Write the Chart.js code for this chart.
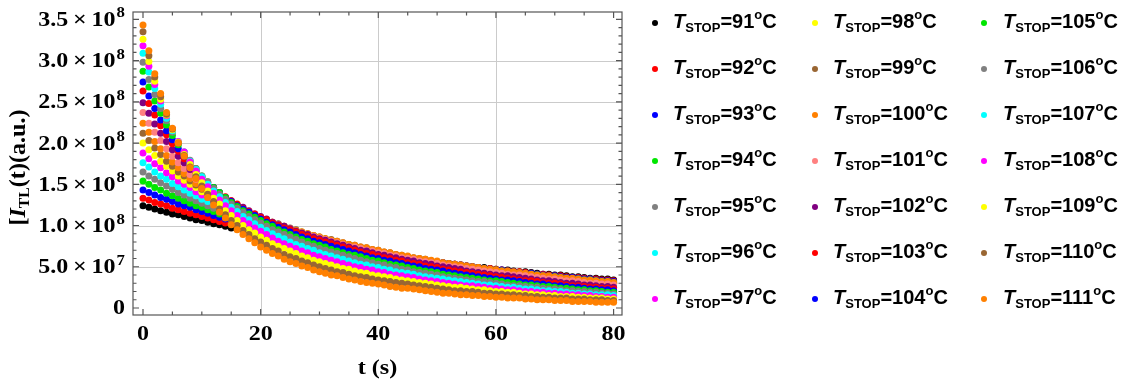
<!DOCTYPE html>
<html>
<head>
<meta charset="utf-8">
<script src="https://cdn.jsdelivr.net/npm/chart.js@4.4.0/dist/chart.umd.min.js"></script>
<style>
  html, body { margin: 0; padding: 0; background: #fff; }
  #wrap { position: relative; width: 1133px; height: 385px; overflow: hidden; }
  #chart { position: absolute; left: 0; top: 0; }
  .leg { position: absolute; font: bold 20px "Liberation Sans", Arial, sans-serif; color: #000;
         white-space: nowrap; line-height: 24px; height: 24px; }
  .leg i { font-style: italic; }
  .leg .sub { font-size: 13px; position: relative; top: 4px; }
  .leg .sup { font-size: 13px; position: relative; top: -9px; }
  .dot { position: absolute; width: 6px; height: 6px; border-radius: 50%; }
</style>
</head>
<body>
<div id="wrap">
  <canvas id="chart" width="1133" height="385"></canvas>
  <div id="legend"></div>
</div>
<script>
// -------------------- Data (intensity in units of 1e6 a.u.) --------------------
const time = [
  0, 1, 2, 3, 4, 5, 6, 7, 8, 9,
  10, 11, 12, 13, 14, 15, 16, 17, 18, 19,
  20, 21, 22, 23, 24, 25, 26, 27, 28, 29,
  30, 31, 32, 33, 34, 35, 36, 37, 38, 39,
  40, 41, 42, 43, 44, 45, 46, 47, 48, 49,
  50, 51, 52, 53, 54, 55, 56, 57, 58, 59,
  60, 61, 62, 63, 64, 65, 66, 67, 68, 69,
  70, 71, 72, 73, 74, 75, 76, 77, 78, 79,
  80];

const tStop = [91, 92, 93, 94, 95, 96, 97, 98, 99, 100, 101, 102, 103, 104, 105, 106, 107, 108, 109, 110, 111];

const I91 = [
  124,122,120,118,116,114,113,111,109,107,
  106,104,102,101,99,97,96,94,93,91,
  90,88,87,86,84,83,82,80,79,78,
  76,75,74,73,72,71,69,68,67,66,
  65,64,63,62,61,60,59,58,57,56,
  55,54,54,53,52,51,50,49,49,48,
  47,46,46,45,44,44,43,42,41,41,
  40,40,39,38,38,37,36,36,35,35,
  34];
const I92 = [
  133,131,128,126,124,121,119,117,115,113,
  111,109,107,105,103,102,100,98,96,95,
  93,91,90,88,87,85,84,82,81,80,
  78,77,76,74,73,72,71,69,68,67,
  66,65,64,63,61,60,59,58,57,56,
  55,55,54,53,52,51,50,49,48,48,
  47,46,45,44,44,43,42,41,41,40,
  39,39,38,37,37,36,35,35,34,34,
  33];
const I93 = [
  143,140,137,134,132,129,126,124,122,119,
  117,115,112,110,108,106,104,102,100,99,
  97,95,93,91,90,88,87,85,83,82,
  80,79,77,76,75,73,72,71,69,68,
  67,66,64,63,62,61,60,59,58,57,
  56,55,54,53,52,51,50,49,48,47,
  46,46,45,44,43,42,42,41,40,39,
  39,38,37,37,36,35,35,34,33,33,
  32];
const I94 = [
  154,150,146,143,139,136,133,130,127,124,
  122,119,117,114,112,109,107,105,103,101,
  99,97,95,93,91,90,88,86,84,83,
  81,80,78,77,75,74,72,71,69,68,
  67,66,64,63,62,61,60,58,57,56,
  55,54,53,52,51,50,49,48,47,46,
  46,45,44,43,42,41,41,40,39,38,
  38,37,36,35,35,34,34,33,32,32,
  31];
const I95 = [
  165,160,156,152,148,144,140,137,133,130,
  127,124,121,119,116,113,111,108,106,104,
  102,99,97,95,93,92,90,88,86,84,
  82,81,79,77,76,74,73,71,70,69,
  67,66,64,63,62,61,60,58,57,56,
  55,54,53,52,51,50,49,48,47,46,
  45,44,43,42,41,41,40,39,38,37,
  37,36,35,35,34,33,33,32,31,31,
  30];
const I96 = [
  176,171,165,160,156,151,147,143,139,136,
  132,129,126,123,120,117,114,112,109,107,
  104,102,100,97,95,93,91,89,87,85,
  84,82,80,78,77,75,73,72,70,69,
  67,66,65,63,62,61,59,58,57,56,
  55,53,52,51,50,49,48,47,46,45,
  44,43,42,42,41,40,39,38,37,37,
  36,35,34,34,33,32,32,31,30,30,
  29];
const I97 = [
  188,181,175,170,164,159,154,150,146,141,
  137,134,130,127,124,121,118,115,112,109,
  107,104,102,99,97,95,93,90,88,86,
  84,82,81,79,77,75,74,72,70,69,
  67,66,64,63,62,60,59,58,56,55,
  54,53,52,51,49,48,47,46,45,44,
  43,42,42,41,40,39,38,37,36,36,
  35,34,33,33,32,31,31,30,29,29,
  28];
const I98 = [
  200,192,185,178,172,166,160,155,150,146,
  141,137,133,130,126,123,120,117,114,111,
  108,106,103,101,98,96,94,92,90,88,
  86,84,82,80,78,77,75,73,72,70,
  69,67,66,64,63,62,60,59,58,56,
  55,54,53,52,51,50,49,48,47,46,
  45,44,43,42,41,40,39,38,38,37,
  36,35,35,34,33,32,32,31,30,30,
  29];
const I99 = [
  212,203,194,186,178,172,165,160,154,149,
  144,140,136,132,128,124,121,118,115,112,
  109,107,104,102,99,97,95,92,90,88,
  86,84,83,81,79,77,76,74,73,71,
  70,68,67,65,64,62,61,60,59,57,
  56,55,54,53,52,51,50,49,48,47,
  46,45,44,43,42,41,40,39,39,38,
  37,36,36,35,34,33,33,32,31,31,
  30];
const I100 = [
  224,213,202,193,185,177,170,163,157,151,
  146,141,137,132,129,125,121,118,115,112,
  109,106,104,101,99,96,94,92,90,88,
  86,84,82,81,79,77,76,74,73,71,
  70,68,67,65,64,63,61,60,59,58,
  57,55,54,53,52,51,50,49,48,47,
  46,45,45,44,43,42,41,40,39,39,
  38,37,36,36,35,34,34,33,32,32,
  31];
const I101 = [
  237,224,213,203,193,184,176,169,162,156,
  150,145,140,135,131,127,123,119,116,113,
  109,106,104,101,98,96,93,91,89,87,
  85,83,81,79,77,75,74,72,70,69,
  67,66,64,63,61,60,59,57,56,55,
  54,52,51,50,49,48,47,46,45,44,
  43,42,41,40,40,39,38,37,36,35,
  35,34,33,33,32,31,30,30,29,29,
  28];
const I102 = [
  249,236,223,212,202,192,184,176,168,162,
  155,149,144,139,134,130,125,122,118,114,
  111,108,104,101,99,96,93,91,89,86,
  84,82,80,78,76,74,72,70,69,67,
  65,64,62,61,59,58,57,55,54,53,
  51,50,49,48,47,45,44,43,42,41,
  40,39,39,38,37,36,35,34,33,33,
  32,31,30,30,29,28,28,27,26,26,
  25];
const I103 = [
  263,248,234,221,210,199,190,181,173,165,
  158,152,146,140,135,130,126,121,117,114,
  110,107,103,100,97,95,92,89,87,84,
  82,80,78,76,74,72,70,68,66,65,
  63,61,60,58,57,55,54,53,51,50,
  49,47,46,45,44,43,42,41,40,39,
  38,37,36,35,34,33,33,32,31,30,
  30,29,28,27,27,26,25,25,24,24,
  23];
const I104 = [
  274,257,242,228,215,204,193,184,175,167,
  159,152,146,140,134,129,124,120,116,112,
  108,104,101,98,95,92,89,86,84,81,
  79,77,75,73,71,69,67,65,63,61,
  60,58,57,55,54,52,51,50,48,47,
  46,45,43,42,41,40,39,38,37,36,
  35,34,34,33,32,31,30,29,29,28,
  27,27,26,25,25,24,23,23,22,22,
  21];
const I105 = [
  287,268,251,236,222,209,198,187,178,169,
  160,153,146,140,134,128,123,118,114,110,
  106,102,99,95,92,89,86,83,81,78,
  76,74,71,69,67,65,64,62,60,58,
  57,55,53,52,51,49,48,46,45,44,
  43,41,40,39,38,37,36,35,34,33,
  33,32,31,30,29,28,28,27,26,26,
  25,24,24,23,22,22,21,21,20,19,
  19];
const I106 = [
  298,277,259,242,227,213,200,189,179,169,
  160,153,145,138,132,126,121,116,111,107,
  103,99,95,92,89,86,83,80,77,75,
  72,70,68,66,64,62,60,58,56,55,
  53,52,50,49,47,46,44,43,42,41,
  40,38,37,36,35,34,33,32,32,31,
  30,29,28,27,27,26,25,25,24,23,
  23,22,21,21,20,20,19,19,18,18,
  17];
const I107 = [
  309,286,266,247,230,215,202,189,178,168,
  159,150,142,135,128,122,117,111,107,102,
  98,94,90,87,84,80,77,75,72,70,
  67,65,63,61,59,57,55,53,52,50,
  49,47,46,44,43,42,41,39,38,37,
  36,35,34,33,32,31,30,29,28,28,
  27,26,25,25,24,23,23,22,21,21,
  20,20,19,18,18,17,17,16,16,16,
  15];
const I108 = [
  318,293,271,251,233,217,202,189,177,166,
  156,147,139,131,124,118,112,106,102,97,
  93,89,85,81,78,75,72,69,67,64,
  62,60,58,56,54,52,50,49,47,46,
  44,43,41,40,39,38,37,35,34,33,
  32,31,30,29,28,27,27,26,25,24,
  24,23,22,22,21,20,20,19,19,18,
  18,17,17,16,16,15,15,14,14,13,
  13];
const I109 = [
  326,299,275,253,234,216,201,186,174,162,
  152,142,133,126,118,112,106,100,95,91,
  86,82,78,75,72,69,66,63,61,58,
  56,54,52,50,48,47,45,43,42,40,
  39,38,37,35,34,33,32,31,30,29,
  28,27,26,25,25,24,23,22,22,21,
  20,20,19,19,18,17,17,16,16,15,
  15,14,14,14,13,13,12,12,12,11,
  11];
const I110 = [
  335,306,280,256,235,217,200,185,171,159,
  148,138,129,120,113,106,100,94,89,84,
  80,76,72,69,65,62,60,57,55,52,
  50,48,46,44,43,41,39,38,37,35,
  34,33,32,31,30,29,28,27,26,25,
  24,23,22,21,21,20,20,19,18,18,
  17,17,16,16,15,15,14,14,13,13,
  12,12,12,11,11,11,10,10,10,9,
  9];
const I111 = [
  343,312,284,260,237,218,200,184,170,157,
  145,134,125,116,109,101,95,89,84,79,
  74,70,66,63,59,56,54,51,49,46,
  44,42,40,39,37,35,34,32,31,30,
  29,28,26,25,24,24,23,22,21,20,
  19,18,18,17,16,16,15,15,14,14,
  13,13,12,12,12,11,11,10,10,10,
  9,9,9,8,8,8,8,7,7,7,
  7];

const series = [I91, I92, I93, I94, I95, I96, I97, I98, I99, I100, I101,
                I102, I103, I104, I105, I106, I107, I108, I109, I110, I111];
const unit = 1e6;

const colors = ['#000000', '#ff0000', '#0000ff', '#00e600', '#808080', '#00ffff', '#ff00ff',
                '#ffff00', '#996633', '#ff8000', '#ff8080', '#800080', '#ff0000', '#0000ff',
                '#00e600', '#808080', '#00ffff', '#ff00ff', '#ffff00', '#996633', '#ff8000'];

// axis ticks / labels
const xTicks = [0, 20, 40, 60, 80];
const xGrid = [20, 40, 60];
const yTicks = [0, 5e7, 1e8, 1.5e8, 2e8, 2.5e8, 3e8, 3.5e8];
const yMant = ['0', '5.0', '1.0', '1.5', '2.0', '2.5', '3.0', '3.5'];
const yExp = ['', '7', '8', '8', '8', '8', '8', '8'];
const yGrid = [5e7, 1e8, 1.5e8, 2e8, 2.5e8, 3e8];

const serif = '"Liberation Serif", "Times New Roman", serif';

// -------------------- Frame, grid & labels plugin --------------------
function stretchText(ctx, text, x, y, sx) {
  ctx.save();
  ctx.translate(x, y);
  ctx.scale(sx, 1);
  ctx.fillText(text, 0, 0);
  ctx.restore();
}

const framePlugin = {
  id: 'frame',
  beforeDatasetsDraw(chart) {
    const { ctx, chartArea: a, scales: { x, y } } = chart;
    ctx.save();
    ctx.strokeStyle = '#cbcbcb';
    ctx.lineWidth = 1;
    ctx.beginPath();
    xGrid.forEach(v => {
      const px = Math.round(x.getPixelForValue(v)) + 0.5;
      ctx.moveTo(px, a.top);
      ctx.lineTo(px, a.bottom);
    });
    yGrid.forEach(v => {
      const py = Math.round(y.getPixelForValue(v)) + 0.5;
      ctx.moveTo(a.left, py);
      ctx.lineTo(a.right, py);
    });
    ctx.stroke();
    ctx.restore();
  },
  afterDatasetsDraw(chart) {
    const { ctx, chartArea: a, scales: { x, y } } = chart;
    ctx.save();

    // frame + inward ticks
    ctx.strokeStyle = '#555555';
    ctx.lineWidth = 1.2;
    ctx.strokeRect(a.left, a.top, a.right - a.left, a.bottom - a.top);
    ctx.beginPath();
    for (let v = 0; v <= 80; v += 5) {
      const px = x.getPixelForValue(v);
      const len = v % 20 === 0 ? 6 : 3.5;
      ctx.moveTo(px, a.bottom); ctx.lineTo(px, a.bottom - len);
      ctx.moveTo(px, a.top); ctx.lineTo(px, a.top + len);
    }
    for (let v = 0; v <= 3.5e8; v += 1e7) {
      const py = y.getPixelForValue(v);
      const len = v % 5e7 === 0 ? 6 : 3.5;
      ctx.moveTo(a.left, py); ctx.lineTo(a.left + len, py);
      ctx.moveTo(a.right, py); ctx.lineTo(a.right - len, py);
    }
    ctx.stroke();

    ctx.fillStyle = '#000';
    ctx.textBaseline = 'alphabetic';

    // y tick labels  (m × 10^e)
    const sx = 1.2;
    yTicks.forEach((v, i) => {
      const py = y.getPixelForValue(v);
      const main = yExp[i] ? yMant[i] + '\u2009\u00d7\u200910' : yMant[i];
      ctx.font = `bold 20px ${serif}`;
      const w1 = ctx.measureText(main).width * sx;
      ctx.font = `bold 14px ${serif}`;
      const w2 = yExp[i] ? ctx.measureText(yExp[i]).width * sx + 1 : 0;
      const x0 = a.left - 8 - w1 - w2;
      ctx.textAlign = 'left';
      ctx.font = `bold 20px ${serif}`;
      stretchText(ctx, main, x0, py + 6.5, sx);
      if (yExp[i]) {
        ctx.font = `bold 14px ${serif}`;
        stretchText(ctx, yExp[i], x0 + w1 + 1, py - 2, sx);
      }
    });

    // x tick labels
    ctx.textAlign = 'center';
    ctx.font = `bold 20px ${serif}`;
    xTicks.forEach(v => {
      stretchText(ctx, String(v), x.getPixelForValue(v), a.bottom + 25, 1.2);
    });

    // x title
    ctx.font = `bold 21px ${serif}`;
    stretchText(ctx, 't (s)', (a.left + a.right) / 2, 374, 1.15);

    // y title: [I_TL(t)(a.u.)
    const parts = [
      { t: '[', f: `bold 23px ${serif}`, dy: 0 },
      { t: 'I', f: `italic bold 23px ${serif}`, dy: 0 },
      { t: 'TL', f: `bold 15px ${serif}`, dy: 4 },
      { t: '(t)(a.u.)', f: `bold 23px ${serif}`, dy: 0 }
    ];
    let total = 0;
    parts.forEach(p => { ctx.font = p.f; p.w = ctx.measureText(p.t).width; total += p.w; });
    ctx.translate(24.5, (a.top + a.bottom) / 2 + 4);
    ctx.rotate(-Math.PI / 2);
    ctx.scale(1.05, 1);
    ctx.textAlign = 'left';
    let cx = -total / 2;
    parts.forEach(p => {
      ctx.font = p.f;
      ctx.fillText(p.t, cx, p.dy);
      cx += p.w;
    });
    ctx.restore();
  }
};

// -------------------- Chart --------------------
const datasets = series.map((vals, k) => ({
  label: `T_STOP=${tStop[k]}°C`,
  data: vals.map((v, i) => ({ x: time[i], y: v * unit })),
  backgroundColor: colors[k],
  borderColor: colors[k],
  pointRadius: 3.5,
  pointBorderWidth: 0,
  pointHoverRadius: 3.5,
  showLine: false,
  order: series.length - 1 - k
}));

const chart = new Chart(document.getElementById('chart').getContext('2d'), {
  type: 'scatter',
  data: { datasets },
  options: {
    responsive: false,
    animation: false,
    devicePixelRatio: 1,
    events: [],
    layout: { padding: { left: 133, right: 511, top: 12, bottom: 70 } },
    plugins: { legend: { display: false }, tooltip: { enabled: false } },
    scales: {
      x: { type: 'linear', display: false, min: -1.7, max: 81.43 },
      y: { type: 'linear', display: false, min: -8.5e6, max: 3.589e8 }
    }
  },
  plugins: [framePlugin]
});

// -------------------- HTML legend (3 columns x 7 rows) --------------------
const legendEl = document.getElementById('legend');
const dotX = [655, 814.5, 984];
const textX = [673, 833, 1003];
chart.data.datasets.forEach((ds, k) => {
  const col = Math.floor(k / 7), row = k % 7;
  const cy = 22.7 + row * 46;
  const dot = document.createElement('div');
  dot.className = 'dot';
  dot.style.background = ds.backgroundColor;
  dot.style.left = (dotX[col] - 3) + 'px';
  dot.style.top = (cy - 3) + 'px';
  legendEl.appendChild(dot);
  const item = document.createElement('div');
  item.className = 'leg';
  item.style.left = textX[col] + 'px';
  item.style.top = (cy - 13.4) + 'px';
  item.innerHTML = `<i>T</i><span class="sub">STOP</span>=${tStop[k]}<span class="sup">o</span>C`;
  legendEl.appendChild(item);
});
</script>
</body>
</html>
